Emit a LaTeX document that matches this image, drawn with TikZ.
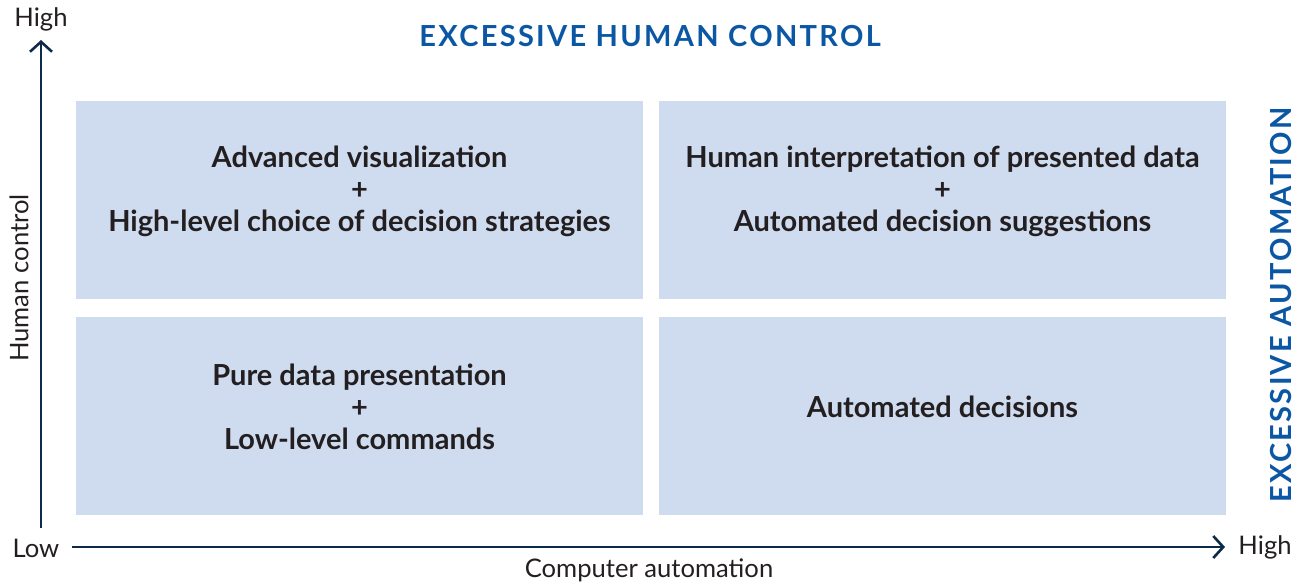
\documentclass[tikz,border=0pt]{standalone}
\usepackage{fontspec}
\setmainfont{Lato}
\newfontfamily\semifont{Lato Bold}
\newfontfamily\titlefont[LetterSpace=8]{Lato Bold}
\usetikzlibrary{positioning,arrows.meta}

\definecolor{quadfill}{HTML}{CFDBEF}
\definecolor{titleblue}{HTML}{0B57A4}
\definecolor{axisnavy}{HTML}{0D2A4A}
\definecolor{textgray}{HTML}{231F20}

\begin{document}
\begin{tikzpicture}[x=0.5pt, y=-0.5pt, >={Straight Barb[length=5pt,width=11pt]}]

\tikzset{
  quad box/.style={fill=quadfill, minimum width=283.5pt, minimum height=99pt, inner sep=0pt},
  quad text/.style={align=center, text=textgray, font=\semifont\fontsize{14.5}{16}\selectfont},
  axis line/.style={draw=axisnavy, line width=1.3pt, ->},
  axis label/.style={text=textgray, font=\fontsize{12.8}{14}\selectfont},
  edge title/.style={text=titleblue, font=\titlefont\fontsize{14.5}{17}\selectfont}
}

\useasboundingbox (0,0) rectangle (1304,584);

% Quadranten
\foreach \m/\x/\y/\l in {tl/359.5/200/{Advanced visualization\\+\\High-level choice of decision strategies},
                         tr/942.5/200/{Human interpretation of presented data\\+\\Automated decision suggestions},
                         bl/359.5/416/{Pure data presentation\\+\\Low-level commands},
                         br/942.5/416/{Automated decisions}}
{
  \node [quad box] (box-\m) at (\x,\y) {};
  \node [quad text] (text-\m) at ([yshift=4.5pt]box-\m.center) {\l};
}

% Achsen
\coordinate (y-start) at (41,528);
\coordinate (y-end) at (41,40);
\coordinate (x-start) at (72,547);
\coordinate (x-end) at (1225,547);

\draw [axis line] (y-start) -- (y-end);
\draw [axis line] (x-start) -- (x-end);

\node [axis label] (y-high) at (41,19) {High};
\node [axis label] (origin-low) at (36,548) {Low};
\node [axis label] (x-high) at (1265,547) {High};
\node [axis label] (x-title) at (649,570) {Computer automation};
\node [axis label, rotate=90] (y-title) at (19,278) {Human control};

% Randbeschriftung
\node [edge title] (top-title) at (650,36) {EXCESSIVE HUMAN CONTROL};
\node [edge title, rotate=90] (right-title) at (1281,305) {EXCESSIVE AUTOMATION};

\end{tikzpicture}
\end{document}
